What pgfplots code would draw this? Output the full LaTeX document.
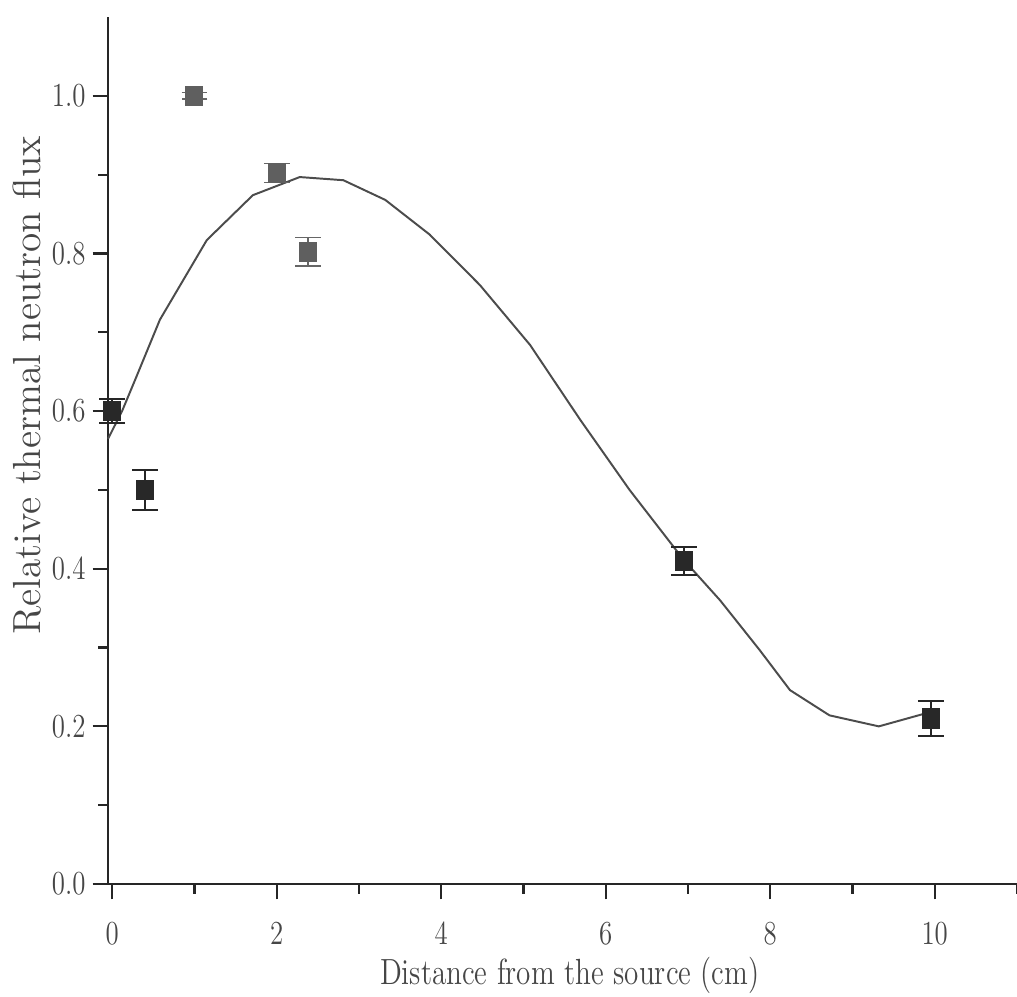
\documentclass[border=0pt]{standalone}
\usepackage{pgfplots}
\usepackage{graphicx}
\pgfplotsset{compat=1.18}
\usetikzlibrary{calc}
\definecolor{txt}{RGB}{70,70,70}
\definecolor{dark}{RGB}{40,40,40}
\definecolor{mid}{RGB}{95,95,95}
\begin{document}
\begin{tikzpicture}
\begin{axis}[
  name=ax,
  scale only axis,
  width=324.6pt, height=309.6pt,
  xmin=-0.05, xmax=11, ymin=0, ymax=1.10,
  axis lines=left,
  axis line style={-, line width=0.9pt, black!85},
  tick align=outside,
  major tick length=5.5pt, minor tick length=3.5pt,
  tick style={line width=0.8pt, black!85},
  xtick={0,2,...,10},
  minor xtick={1,3,5,7,9,11},
  ytick={0,0.2,...,1.0},
  minor ytick={0.1,0.3,0.5,0.7,0.9},
  yticklabel={\scalebox{0.8}[1]{\pgfmathprintnumber[fixed,fixed zerofill,precision=1]{\tick}}},
  xticklabel={\scalebox{0.8}[1]{\pgfmathprintnumber{\tick}}},
  tick label style={font=\fontsize{13}{15}\selectfont, text=txt},
  xticklabel style={yshift=-5pt},
  yticklabel style={xshift=1pt},
  label style={text=txt},
  xlabel={\scalebox{0.8}[1]{Distance from the source (cm)}},
  ylabel={Relative thermal neutron flux},
  xlabel style={font=\fontsize{13}{15}\selectfont, at={(axis description cs:0.508,-0.105)}, anchor=center},
  ylabel style={font=\fontsize{14}{16}\selectfont, at={(axis description cs:-0.089,0.575)}, anchor=center},
  clip=false,
]
\addplot[no marks, line width=0.7pt, black!70] coordinates {
 (-0.05,0.565) (0.12,0.60) (0.28,0.64) (0.58,0.716) (1.15,0.817) (1.71,0.874)
 (2.28,0.897) (2.81,0.893) (3.32,0.868) (3.86,0.824) (4.47,0.76) (5.08,0.684)
 (5.69,0.589) (6.29,0.50) (6.95,0.411) (7.39,0.36) (7.87,0.297) (8.24,0.246)
 (8.72,0.214) (9.32,0.20) (9.94,0.218)
};
\addplot[only marks, mark=square*, mark size=3pt, mark options={fill=dark, draw=dark, yscale=1.15},
  error bars/.cd, y dir=both, y explicit,
  error bar style={line width=0.7pt, black!85},
  error mark options={rotate=90, mark size=4.6pt, line width=0.7pt, black!85}]
  coordinates {
  (0,0.60) +- (0,0.015)
  (0.4,0.50) +- (0,0.025)
  (6.95,0.41) +- (0,0.018)
  (9.95,0.21) +- (0,0.022)
};
\addplot[only marks, mark=square*, mark size=3pt, mark options={fill=mid, draw=mid, yscale=1.15},
  error bars/.cd, y dir=both, y explicit,
  error bar style={line width=0.5pt, black!60},
  error mark options={rotate=90, mark size=4.6pt, line width=0.5pt, black!60}]
  coordinates {
  (1.0,1.0) +- (0,0.004)
  (2.0,0.902) +- (0,0.012)
  (2.38,0.802) +- (0,0.018)
};
\end{axis}
\pgfresetboundingbox
\path[use as bounding box] ($(ax.south west)+(-38.6pt,-40pt)$) rectangle ($(ax.north east)+(0,6.1pt)$);
\end{tikzpicture}
\end{document}
